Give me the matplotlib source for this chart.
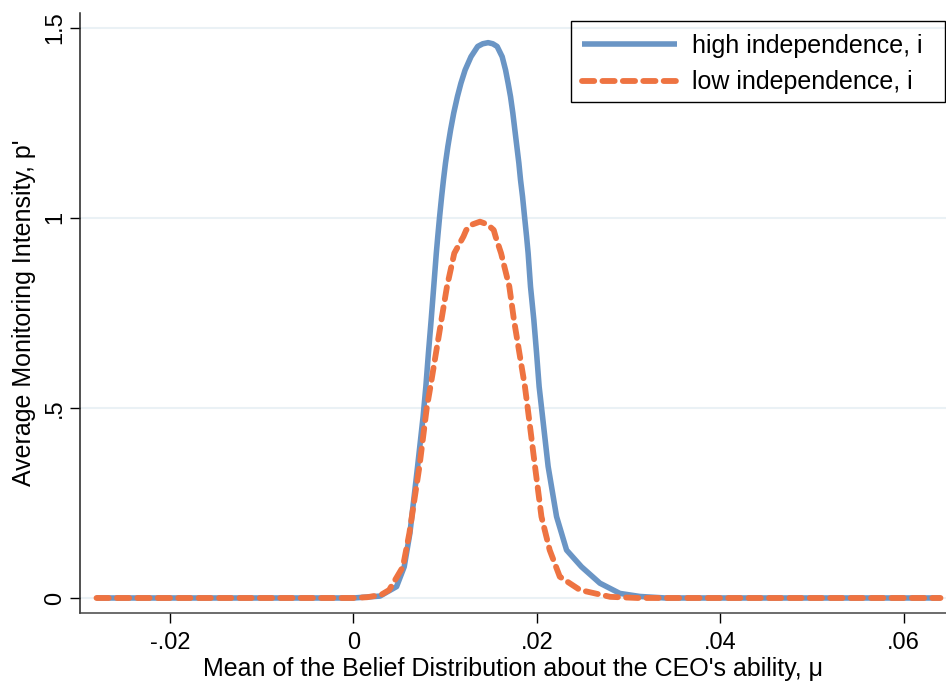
import numpy as np
import matplotlib.pyplot as plt
from matplotlib.patches import Rectangle

plt.rcParams['font.family'] = ['Liberation Sans', 'DejaVu Sans']

# high independence
high_x = [-0.028, 0.0, 0.00290, 0.00471, 0.00554, 0.00616, 0.00700, 0.00760, 0.00790,
          0.00818, 0.00848, 0.00876, 0.00904, 0.00920, 0.00940, 0.00962, 0.00982,
          0.01004, 0.01030, 0.01060, 0.01094, 0.01134, 0.01172, 0.01218, 0.01282,
          0.01355, 0.01410, 0.01469, 0.01520, 0.01567, 0.01622, 0.01659, 0.01687,
          0.01713, 0.01738, 0.01760, 0.01782, 0.01804, 0.01822, 0.01844, 0.01866,
          0.01888, 0.01905, 0.01931, 0.01967, 0.01997, 0.02025, 0.02062, 0.02123,
          0.02215, 0.02324, 0.02487, 0.02687, 0.02905, 0.03123, 0.034, 0.064]
high_y = [0.0, 0.0, 0.005, 0.030, 0.082, 0.170, 0.346, 0.477, 0.556,
          0.644, 0.732, 0.819, 0.907, 0.951, 1.003, 1.056, 1.100,
          1.144, 1.188, 1.232, 1.276, 1.319, 1.354, 1.389, 1.424,
          1.451, 1.458, 1.461, 1.458, 1.451, 1.424, 1.389, 1.354,
          1.319, 1.276, 1.232, 1.188, 1.144, 1.100, 1.056, 1.003,
          0.951, 0.907, 0.819, 0.732, 0.644, 0.556, 0.477, 0.346,
          0.214, 0.126, 0.082, 0.039, 0.012, 0.004, 0.0, 0.0]

# low independence
low_x = [-0.028, 0.0, 0.0015, 0.0030, 0.0039, 0.0054, 0.0061, 0.0072, 0.0080,
         0.0084, 0.0090, 0.0096, 0.0102, 0.0110, 0.0120, 0.0123, 0.0130, 0.0138,
         0.0146, 0.0153, 0.0155, 0.0161, 0.0170, 0.0175, 0.0181, 0.0187, 0.0190,
         0.0198, 0.0205, 0.0214, 0.0225, 0.0247, 0.0280, 0.031, 0.064]
low_y = [0.0, 0.0, 0.002, 0.008, 0.021, 0.082, 0.170, 0.346, 0.500,
         0.556, 0.644, 0.732, 0.819, 0.907, 0.951, 0.968, 0.983, 0.990,
         0.983, 0.968, 0.951, 0.907, 0.819, 0.732, 0.644, 0.556, 0.500,
         0.346, 0.214, 0.126, 0.056, 0.021, 0.003, 0.0, 0.0]

xticks = [-0.02, 0.0, 0.02, 0.04, 0.06]
xtick_labels = ['-.02', '0', '.02', '.04', '.06']
yticks = [0, 0.5, 1, 1.5]
ytick_labels = ['0', '.5', '1', '1.5']

W, H = 946, 684
fig = plt.figure(figsize=(W / 100, H / 100), dpi=100)
ax = fig.add_axes([80 / W, 1 - 613 / H, 866 / W, 600 / H])

for y in yticks:
    ax.axhline(y, color='#eaf1f5', lw=1.5, zorder=0)

ax.plot(high_x, high_y, color='#6a95c5', lw=4.0, label='high independence, i',
        solid_capstyle='butt', solid_joinstyle='round')
ax.plot(low_x, low_y, color='#ee7341', lw=4.2, dashes=(2.1, 1.4),
        dash_capstyle='round', label='low independence, i')

ax.set_xlim(-0.0298, 0.0646)
ax.set_ylim(-0.0395, 1.539)

ax.set_xticks(xticks)
ax.set_xticklabels(xtick_labels)
ax.set_yticks(yticks)
ax.set_yticklabels(ytick_labels, rotation=90, va='center')
ax.tick_params(axis='both', length=7, width=1, labelsize=17)
ax.tick_params(axis='x', pad=7)
ax.tick_params(axis='y', pad=3)

ax.spines['top'].set_visible(False)
ax.spines['right'].set_visible(False)
ax.spines['left'].set_color('#222222')
ax.spines['bottom'].set_color('#444444')
ax.spines['left'].set_linewidth(1.1)
ax.spines['bottom'].set_linewidth(1.1)

ax.set_xlabel("Mean of the Belief Distribution about the CEO's ability, μ",
              fontsize=18, labelpad=2)
ax.set_ylabel("Average Monitoring Intensity, p'", fontsize=18, labelpad=6)

# legend box drawn separately so its padding can follow the original
leg = ax.legend(loc='upper left', fontsize=18, frameon=False,
                handlelength=3.8, handletextpad=0.6, borderpad=0.43,
                labelspacing=0.5, borderaxespad=0,
                bbox_to_anchor=(571 / W, 1 - 23 / H),
                bbox_transform=fig.transFigure)
fig.patches.append(Rectangle((571 / W, 1 - 102 / H), 374 / W, 81 / H,
                             transform=fig.transFigure, fill=False,
                             edgecolor='black', lw=1.0))

fig.savefig('out.png', dpi=100)
